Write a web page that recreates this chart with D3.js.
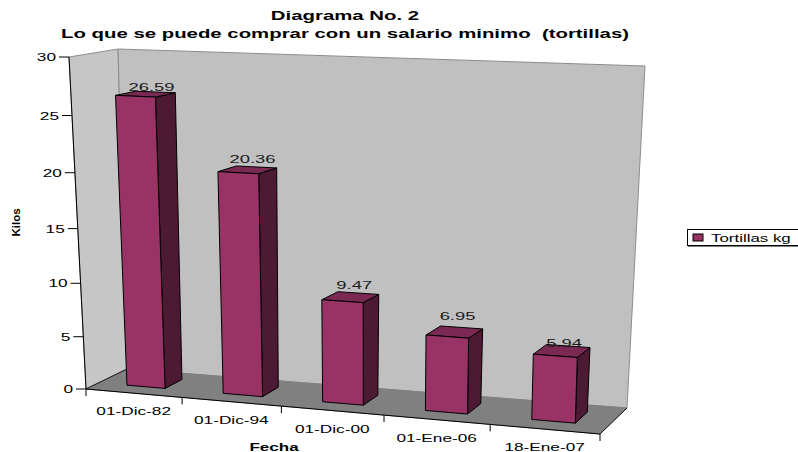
<!DOCTYPE html>
<html>
<head>
<meta charset="utf-8">
<script src="https://cdn.jsdelivr.net/npm/d3@7"></script>
<style>
	html, body { margin: 0; padding: 0; background: #fff; }
	svg { display: block; font-family: "Liberation Sans", Arial, sans-serif; fill: #000; }
	text { white-space: pre; }
</style>
</head>
<body>
<svg id="chart" width="798" height="452"></svg>
<script>
const categories = ["01-Dic-82", "01-Dic-94", "01-Dic-00", "01-Ene-06", "18-Ene-07"];
const kilos = [26.59, 20.36, 9.47, 6.95, 5.94];
const valueLabels = ["26.59", "20.36", "9.47", "6.95", "5.94"];
const valueTicks = [0, 5, 10, 15, 20, 25, 30];
const titleLines = ["Diagrama No. 2", "Lo que se puede comprar con un salario minimo  (tortillas)"];
const seriesName = "Tortillas kg";

const colors = {
	wall: "#c0c0c0",
	sideWall: "#c6c6c6",
	floor: "#808080",
	edge: "#8c8c8c",
	front: "#993366",
	side: "#4d1a33",
	top: "#7a2952",
};

// corners of the box as drawn: [front left, front right, back right, back left]
const floorCorners = [[86, 389], [600, 434], [627, 408], [127, 369]];
const ceilCorners = [[69, 57], [610, 78], [645, 66], [118, 49]];

const BAR_FRONT = 0.31;
const BAR_BACK = 0.74;
const STRETCH = 1.5; // the original picture was resized wider, text included
const labelNudge = [1, -2, -2, -5, 3]; // label offsets differ a little per bar in the original

const svg = d3.select("#chart");

function makeBilinear(q) {
	const [a, b, c, d] = q;
	return (u, w) => [0, 1].map((k) => {
		const front = a[k] + (b[k] - a[k]) * u;
		const back = d[k] + (c[k] - d[k]) * u;
		return front + (back - front) * w;
	});
}

const floorAt = makeBilinear(floorCorners);
const ceilAt = makeBilinear(ceilCorners);

const xBand = d3.scaleBand().domain(categories).range([0, 1]);
const yValue = d3.scaleLinear().domain([0, 30]).range([0, 1]);

// mild foreshortening, left and bottom are further from the camera
function foreshorten(t, c) {
	return t / (1 + c * (1 - t));
}

// u across, w into the picture, value up
function project(u, w, value) {
	const uw = foreshorten(u, 0.087);
	const p0 = floorAt(uw, w);
	const p1 = ceilAt(uw, w);
	const t = foreshorten(yValue(value), 0.07);
	return [p0[0] + (p1[0] - p0[0]) * t, p0[1] + (p1[1] - p0[1]) * t];
}

function polygon(points, fill, stroke, strokeWidth) {
	svg.append("polygon")
		.attr("points", points.map((p) => p.join(",")).join(" "))
		.attr("fill", fill)
		.attr("stroke", stroke || "none")
		.attr("stroke-width", strokeWidth || 0)
		.attr("stroke-linejoin", "round");
}

function line(a, b, stroke, width) {
	svg.append("line")
		.attr("x1", a[0]).attr("y1", a[1])
		.attr("x2", b[0]).attr("y2", b[1])
		.attr("stroke", stroke)
		.attr("stroke-width", width);
}

function label(x, y, text, size, anchor, opts = {}) {
	const sx = opts.stretch || STRETCH;
	return svg.append("text")
		.attr("transform", `translate(${x}, ${y}) scale(${sx}, 1)${opts.rotate ? " rotate(-90)" : ""}`)
		.attr("text-anchor", anchor)
		.attr("font-size", size)
		.attr("font-weight", opts.bold ? "bold" : null)
		.attr("fill", opts.fill || "#000")
		.text(text);
}

function drawBox() {
	polygon([project(0, 0, 0), project(0, 0, 30), project(0, 1, 30), project(0, 1, 0)], colors.sideWall, colors.edge, 1);
	polygon([project(0, 1, 0), project(0, 1, 30), project(1, 1, 30), project(1, 1, 0)], colors.wall, colors.edge, 1);
	polygon([project(0, 0, 0), project(1, 0, 0), project(1, 1, 0), project(0, 1, 0)], colors.floor, colors.floor, 1);
}

function drawAxes() {
	line(project(0, 0, 0), project(0, 0, 30), "#000", 1);
	line(project(0, 0, 0), project(1, 0, 0), "#000", 1);
	line(project(0, 0, 0), project(0, 1, 0), "#000", 0.8);
	line(project(1, 0, 0), project(1, 1, 0), "#000", 0.8);

	valueTicks.forEach((t) => {
		const p = project(0, 0, t);
		line([p[0] - 10, p[1]], p, "#000", 1);
		label(p[0] - 13, p[1] + 4, t, 11.5, "end");
	});

	categories.forEach((c, i) => {
		const left = project(xBand(c), 0, 0);
		line(left, [left[0], left[1] + 7], "#000", 1);
		if (i === categories.length - 1) {
			const end = project(1, 0, 0);
			line(end, [end[0], end[1] + 7], "#000", 1);
		}
		const mid = project(xBand(c) + xBand.bandwidth() / 2, 0, 0);
		label(mid[0], mid[1] + 22, c, 11.5, "middle");
	});
}

function drawBars() {
	const bw = xBand.bandwidth();
	categories.forEach((c, i) => {
		const u0 = xBand(c) + bw * 0.3;
		const u1 = xBand(c) + bw * 0.7;
		const v = kilos[i];
		const fbl = project(u0, BAR_FRONT, 0);
		const fbr = project(u1, BAR_FRONT, 0);
		const ftl = project(u0, BAR_FRONT, v);
		const ftr = project(u1, BAR_FRONT, v);
		const bbr = project(u1, BAR_BACK, 0);
		const btr = project(u1, BAR_BACK, v);
		const btl = project(u0, BAR_BACK, v);
		polygon([fbr, ftr, btr, bbr], colors.side, "#000", 1);
		polygon([ftl, ftr, btr, btl], colors.top, "#000", 1);
		polygon([fbl, ftl, ftr, fbr], colors.front, "#000", 1);

		const top = project((u0 + u1) / 2, BAR_BACK, v);
		label(top[0] - 4, top[1] - 2 + labelNudge[i], valueLabels[i], 11.5, "middle", { stretch: 1.6, fill: "#1a1a1a" });
	});
}

function drawTitles() {
	titleLines.forEach((t, i) => {
		label(345, 20 + i * 17.5, t, 13, "middle", { stretch: 1.568, bold: true });
	});
	label(274, 451, "Fecha", 11, "middle", { stretch: 1.55, bold: true });
	label(20, 222.5, "Kilos", 11.5, "middle", { stretch: 1, bold: true, rotate: true });
}

function drawLegend() {
	svg.append("rect").attr("x", 688).attr("y", 230).attr("width", 112).attr("height", 17).attr("fill", "#808080");
	svg.append("rect").attr("x", 687.5).attr("y", 229.5).attr("width", 112).attr("height", 16)
		.attr("fill", "#fff").attr("stroke", "#000").attr("stroke-width", 1);
	svg.append("rect").attr("x", 693).attr("y", 234).attr("width", 10).attr("height", 7)
		.attr("fill", colors.front).attr("stroke", "#000").attr("stroke-width", 1);
	label(711, 242, seriesName, 11.5, "start", { stretch: 1.47 });
}

drawBox();
drawAxes();
drawBars();
drawTitles();
drawLegend();
</script>
</body>
</html>
